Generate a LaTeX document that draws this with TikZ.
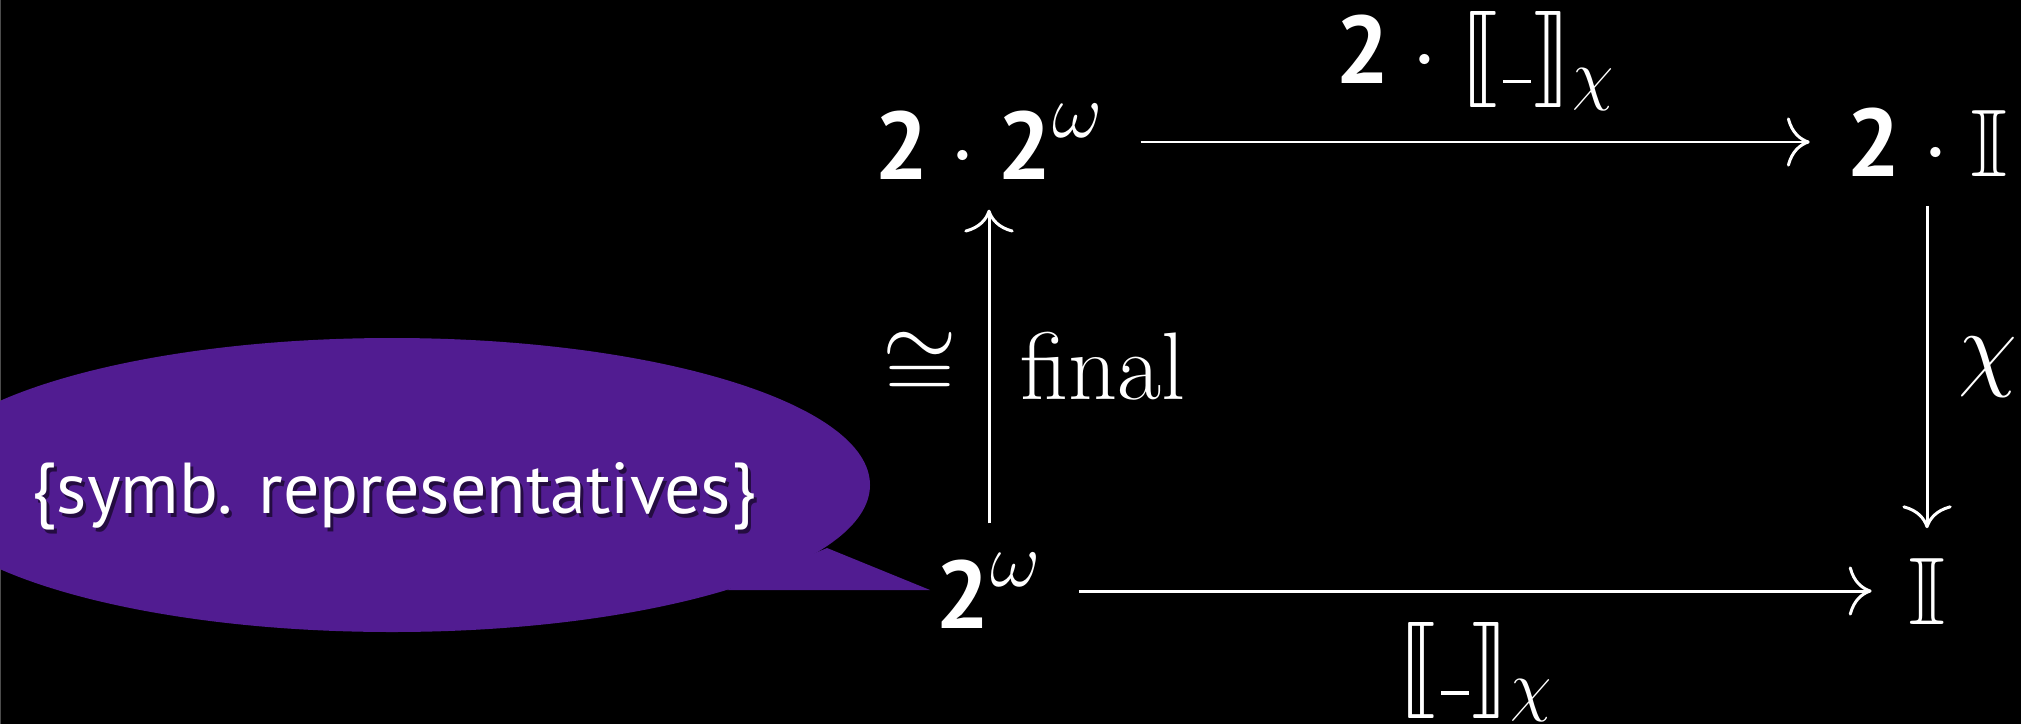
\documentclass[tikz,border=0pt]{standalone}
\usepackage{fix-cm}
\usepackage{amsmath,amssymb,stmaryrd}
\usepackage{fontspec}
\newfontfamily\slidefont{PT Sans}
\usetikzlibrary{arrows.meta,positioning}
% let the brackets scale to any size
\DeclareFontFamily{U}{stmry}{}
\DeclareFontShape{U}{stmry}{m}{n}{<-> stmary10}{}
\definecolor{bubble}{RGB}{81,28,145}
\newcommand{\two}{\text{\slidefont\bfseries 2}}
\newcommand{\om}{{\scalebox{1.15}{$\scriptstyle\omega$}}}
\newcommand{\sem}{\llbracket\mkern1mu\rule{0.29em}{0.035em}\mkern0.5mu\rrbracket_{\chi}}

\begin{document}
\begin{tikzpicture}[x=0.01cm, y=-0.01cm,
    obj/.style={inner xsep=3.6mm, inner ysep=2.9mm, text=white,
      font=\fontsize{27.3}{33}\selectfont},
    lbl/.style={inner sep=0pt, text=white, font=\fontsize{27.3}{33}\selectfont},
    arr/.style={draw=white, line width=0.85pt,
      -{Computer Modern Rightarrow[width=14pt,length=6.5pt]}},
    bubbletext/.style={anchor=base, inner sep=0pt,
      font=\slidefont\fontsize{20.5}{24}\selectfont}]
    % Background of the slide
    \fill[black] (0,0) rectangle (2021,724);
    \useasboundingbox (0,0) rectangle (2021,724);
    \clip (0,0) rectangle (2021,724);
    \draw[black!70!white, line width=0.7pt] (0,0) -- (0,724);

    % Speech bubble with its tail
    \fill[bubble] (392,485) ellipse [x radius=478, y radius=147];
    \fill[bubble] (827,548) -- (930,590) -- (727,590) -- cycle;
    \node[bubbletext, text=black!55!bubble] at (397,517) {\{symb. representatives\}};
    \node[bubbletext, text=white] (reps) at (394,513) {\{symb. representatives\}};

    % The four corners of the square
    \node[obj] (prod) at (989,142) {$\two\cdot\two^{\om}$};
    \node[obj] (prodI) at (1927,142) {$\two\cdot\mathbb{I}$};
    \node[obj] (strm) at (989,591) {$\two^{\om}$};
    \node[obj] (unit) at (1927,591) {$\mathbb{I}$};

    % Arrows between them
    \draw[arr] (prod) -- node[lbl, above=3mm] {$\two\cdot\sem$} (prodI);
    \draw[arr] (prodI) -- node[lbl, right=3mm] {$\chi$} (unit);
    \draw[arr] (strm) -- node[lbl, left=3mm] {$\cong$}
        node[lbl, right=3mm] {final} (prod);
    \draw[arr] (strm) -- node[lbl, below=3mm] {$\sem$} (unit);
\end{tikzpicture}
\end{document}
